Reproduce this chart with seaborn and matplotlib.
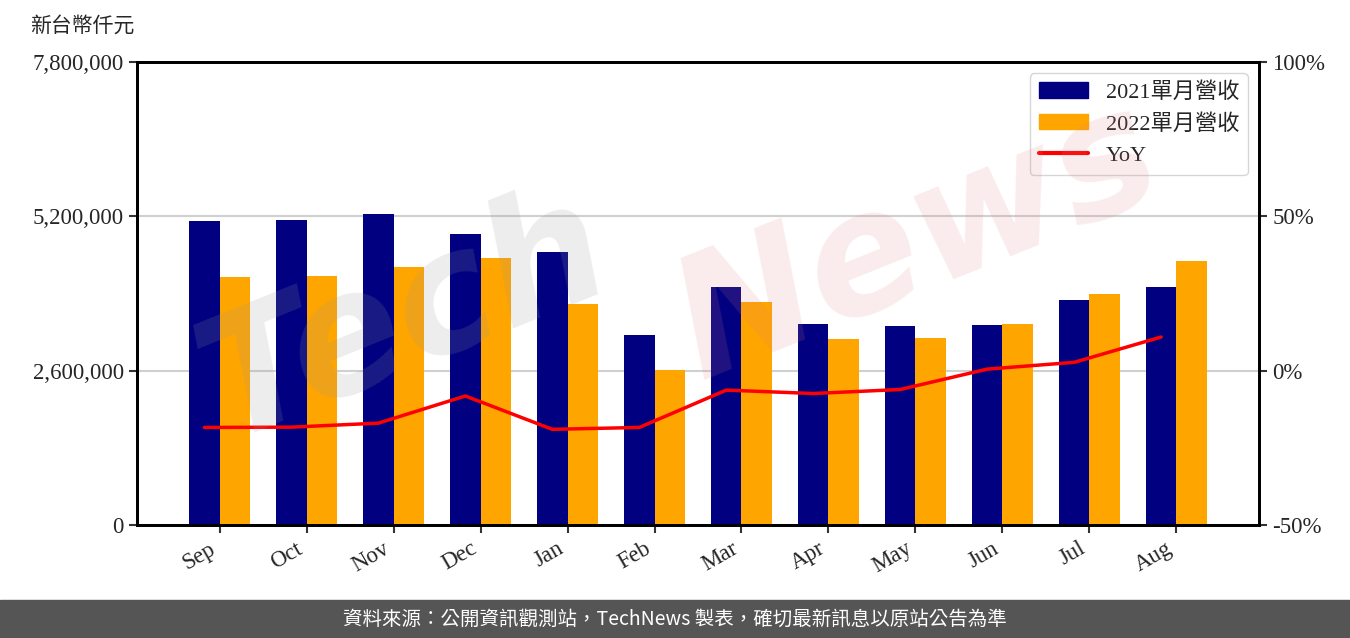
import numpy as np
import pandas as pd
import matplotlib
matplotlib.use('Agg')
import matplotlib.pyplot as plt
from matplotlib.patches import Rectangle, Patch
from matplotlib.lines import Line2D
from matplotlib.ticker import FuncFormatter
import seaborn as sns

months = ['Sep', 'Oct', 'Nov', 'Dec', 'Jan', 'Feb', 'Mar', 'Apr', 'May', 'Jun', 'Jul', 'Aug']
rev_2021 = [5121000, 5138000, 5239000, 4902000, 4599000, 3201000,
            4010000, 3386000, 3353000, 3369000, 3791000, 4010000]
rev_2022 = [4178000, 4195000, 4347000, 4498000, 3723000, 2611000,
            3757000, 3134000, 3150000, 3386000, 3892000, 4448000]
yoy = [-18.4, -18.3, -17.0, -8.2, -19.0, -18.4,
       -6.3, -7.4, -6.1, 0.5, 2.7, 10.9]

navy = '#000080'
orange = '#FFA500'

sns.set_style('white')
plt.rcParams['font.family'] = ['Liberation Serif', 'Noto Sans CJK TC']
plt.rcParams['axes.unicode_minus'] = False

df = pd.DataFrame({
    'month': months * 2,
    'rev': rev_2021 + rev_2022,
    'year': ['2021單月營收'] * 12 + ['2022單月營收'] * 12,
})

fig = plt.figure(figsize=(13.5, 6.38), dpi=100)
ax = fig.add_axes([137 / 1350, 1 - 525 / 638, 1122 / 1350, 463 / 638])

# watermark
fig.text(0.30, 0.50, 'Tech', fontsize=120, color='#999999', alpha=0.18,
         rotation=22, ha='center', va='center', style='italic',
         family='DejaVu Sans', weight='bold', zorder=0)
fig.text(0.68, 0.62, 'News', fontsize=120, color='#e08080', alpha=0.15,
         rotation=22, ha='center', va='center', style='italic',
         family='DejaVu Sans', weight='bold', zorder=0)

sns.barplot(data=df, x='month', y='rev', hue='year', palette=[navy, orange],
            width=0.7, saturation=1, linewidth=0, ax=ax, legend=False, zorder=2)
ax.set_ylim(0, 7800000)
ax.set_yticks([0, 2600000, 5200000, 7800000])
ax.yaxis.set_major_formatter(FuncFormatter(lambda v, p: f'{int(v):,}'))
ax.set_xlim(-0.95, 11.95)
ax.set_xlabel('')
ax.set_ylabel('')
ax.grid(axis='y', color='#d0d0d0', lw=1.5, zorder=0)
ax.set_axisbelow(True)
ax.patch.set_alpha(0)
ax.tick_params(axis='both', direction='out', length=6, width=1.5,
               labelsize=16.5, color='#333333', left=True, bottom=True)
plt.setp(ax.get_xticklabels(), rotation=30, ha='right')

ax2 = ax.twinx()
sns.lineplot(x=np.arange(12) - 0.175, y=yoy, color='red', lw=2.5, ax=ax2, zorder=3)
ax2.set_ylim(-50, 100)
ax2.set_yticks([-50, 0, 50, 100])
ax2.yaxis.set_major_formatter(FuncFormatter(lambda v, p: f'{int(v)}%'))
ax2.tick_params(axis='y', direction='out', length=6, width=1.5,
                labelsize=16.5, color='#333333', right=True)
ax2.set_xlim(-0.95, 11.95)

for a in (ax, ax2):
    for s in a.spines.values():
        s.set_color('black')
        s.set_linewidth(2)

handles = [Patch(color=navy), Patch(color=orange), Line2D([], [], color='red', lw=3)]
ax2.legend(handles, ['2021單月營收', '2022單月營收', 'YoY'], loc='upper right',
           fontsize=16, frameon=True, edgecolor='#cccccc', fancybox=True,
           borderaxespad=0.5, handlelength=2.2)

fig.text(30 / 1350, 1 - 27 / 638, '新台幣仟元', fontsize=15, va='center', ha='left')

fig.patches.append(Rectangle((0, 0), 1, 38 / 638, transform=fig.transFigure,
                             color='#555555', zorder=0))
fig.text(0.5, 19 / 638, '資料來源：公開資訊觀測站，TechNews 製表，確切最新訊息以原站公告為準',
         color='white', fontsize=14, ha='center', va='center',
         family=['Noto Sans CJK TC', 'DejaVu Sans'])

fig.savefig('out.png', dpi=100)
